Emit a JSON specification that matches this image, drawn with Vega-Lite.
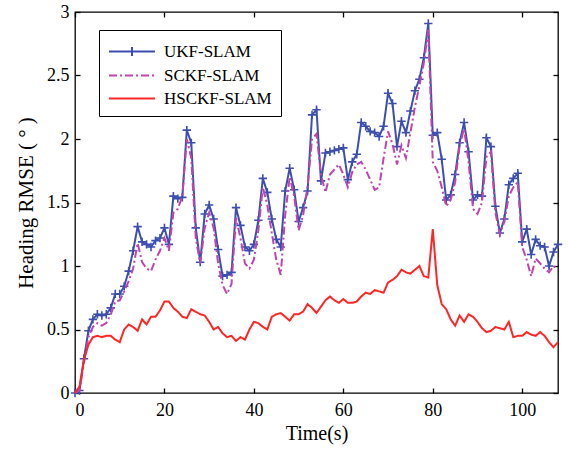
{
  "$schema": "https://vega.github.io/schema/vega-lite/v6.json",
  "autosize": "none",
  "width": 483,
  "height": 381,
  "padding": {"left": 75, "top": 12, "right": 10, "bottom": 56},
  "background": "white",
  "datasets": {
    "u": [
      {"t":0,"v":0},{"t":1,"v":0.02},{"t":2,"v":0.27},{"t":3,"v":0.49},{"t":4,"v":0.58},{"t":5,"v":0.62},{"t":6,"v":0.61},{"t":7,"v":0.62},{"t":8,"v":0.67},{"t":9,"v":0.78},
      {"t":10,"v":0.78},{"t":11,"v":0.84},{"t":12,"v":0.96},{"t":13,"v":1.12},{"t":14,"v":1.31},{"t":15,"v":1.19},{"t":16,"v":1.17},{"t":17,"v":1.15},{"t":18,"v":1.2},{"t":19,"v":1.22},
      {"t":20,"v":1.3},{"t":21,"v":1.17},{"t":22,"v":1.55},{"t":23,"v":1.53},{"t":24,"v":1.54},{"t":25,"v":2.07},{"t":26,"v":1.97},{"t":27,"v":1.3},{"t":28,"v":1.03},{"t":29,"v":1.41},
      {"t":30,"v":1.48},{"t":31,"v":1.37},{"t":32,"v":1.13},{"t":33,"v":0.92},{"t":34,"v":0.93},{"t":35,"v":0.95},{"t":36,"v":1.46},{"t":37,"v":1.32},{"t":38,"v":1.15},{"t":39,"v":1.12},
      {"t":40,"v":1.17},{"t":41,"v":1.36},{"t":42,"v":1.69},{"t":43,"v":1.58},{"t":44,"v":1.37},{"t":45,"v":1.21},{"t":46,"v":1.15},{"t":47,"v":1.59},{"t":48,"v":1.77},{"t":49,"v":1.6},
      {"t":50,"v":1.35},{"t":51,"v":1.46},{"t":52,"v":1.59},{"t":53,"v":2.19},{"t":54,"v":2.23},{"t":55,"v":1.67},{"t":56,"v":1.89},{"t":57,"v":1.9},{"t":58,"v":1.91},{"t":59,"v":1.92},
      {"t":60,"v":1.93},{"t":61,"v":1.68},{"t":62,"v":1.82},{"t":63,"v":1.88},{"t":64,"v":2.13},{"t":65,"v":2.1},{"t":66,"v":2.06},{"t":67,"v":2.05},{"t":68,"v":2.02},{"t":69,"v":2.1},
      {"t":70,"v":2.36},{"t":71,"v":2.28},{"t":72,"v":1.94},{"t":73,"v":2.14},{"t":74,"v":2.05},{"t":75,"v":2.22},{"t":76,"v":2.38},{"t":77,"v":2.47},{"t":78,"v":2.64},{"t":79,"v":2.91},
      {"t":80,"v":2.03},{"t":81,"v":2.05},{"t":82,"v":1.84},{"t":83,"v":1.52},{"t":84,"v":1.56},{"t":85,"v":1.72},{"t":86,"v":1.97},{"t":87,"v":2.13},{"t":88,"v":1.9},{"t":89,"v":1.52},
      {"t":90,"v":1.56},{"t":91,"v":1.55},{"t":92,"v":2.01},{"t":93,"v":1.94},{"t":94,"v":1.47},{"t":95,"v":1.26},{"t":96,"v":1.37},{"t":97,"v":1.64},{"t":98,"v":1.69},{"t":99,"v":1.73},
      {"t":100,"v":1.19},{"t":101,"v":1.29},{"t":102,"v":1.09},{"t":103,"v":1.21},{"t":104,"v":1.16},{"t":105,"v":1.15},{"t":106,"v":1.0},{"t":107,"v":1.11},{"t":108,"v":1.17}
    ],
    "c": [
      {"t":0,"v":0},{"t":1,"v":0.02},{"t":2,"v":0.24},{"t":3,"v":0.44},{"t":4,"v":0.52},{"t":5,"v":0.55},{"t":6,"v":0.53},{"t":7,"v":0.55},{"t":8,"v":0.62},{"t":9,"v":0.72},
      {"t":10,"v":0.73},{"t":11,"v":0.8},{"t":12,"v":0.88},{"t":13,"v":0.98},{"t":14,"v":1.18},{"t":15,"v":1.03},{"t":16,"v":0.98},{"t":17,"v":0.96},{"t":18,"v":1.05},{"t":19,"v":1.12},
      {"t":20,"v":1.22},{"t":21,"v":1.12},{"t":22,"v":1.42},{"t":23,"v":1.45},{"t":24,"v":1.55},{"t":25,"v":2.0},{"t":26,"v":1.85},{"t":27,"v":1.22},{"t":28,"v":1.02},{"t":29,"v":1.3},
      {"t":30,"v":1.42},{"t":31,"v":1.3},{"t":32,"v":1.02},{"t":33,"v":0.85},{"t":34,"v":0.78},{"t":35,"v":0.86},{"t":36,"v":1.38},{"t":37,"v":1.22},{"t":38,"v":1.02},{"t":39,"v":0.98},
      {"t":40,"v":1.05},{"t":41,"v":1.28},{"t":42,"v":1.62},{"t":43,"v":1.48},{"t":44,"v":1.26},{"t":45,"v":1.05},{"t":46,"v":0.93},{"t":47,"v":1.4},{"t":48,"v":1.7},{"t":49,"v":1.55},
      {"t":50,"v":1.28},{"t":51,"v":1.4},{"t":52,"v":1.62},{"t":53,"v":2.0},{"t":54,"v":2.04},{"t":55,"v":1.72},{"t":56,"v":1.58},{"t":57,"v":1.72},{"t":58,"v":1.76},{"t":59,"v":1.8},
      {"t":60,"v":1.72},{"t":61,"v":1.62},{"t":62,"v":1.74},{"t":63,"v":1.8},{"t":64,"v":1.82},{"t":65,"v":1.76},{"t":66,"v":1.68},{"t":67,"v":1.6},{"t":68,"v":1.62},{"t":69,"v":1.85},
      {"t":70,"v":2.06},{"t":71,"v":1.96},{"t":72,"v":1.8},{"t":73,"v":1.95},{"t":74,"v":1.85},{"t":75,"v":2.05},{"t":76,"v":2.25},{"t":77,"v":2.42},{"t":78,"v":2.6},{"t":79,"v":2.86},
      {"t":80,"v":1.82},{"t":81,"v":1.75},{"t":82,"v":1.62},{"t":83,"v":1.47},{"t":84,"v":1.52},{"t":85,"v":1.66},{"t":86,"v":1.95},{"t":87,"v":2.08},{"t":88,"v":1.82},{"t":89,"v":1.45},
      {"t":90,"v":1.41},{"t":91,"v":1.5},{"t":92,"v":1.86},{"t":93,"v":1.9},{"t":94,"v":1.42},{"t":95,"v":1.25},{"t":96,"v":1.35},{"t":97,"v":1.55},{"t":98,"v":1.62},{"t":99,"v":1.66},
      {"t":100,"v":1.15},{"t":101,"v":1.05},{"t":102,"v":0.92},{"t":103,"v":1.06},{"t":104,"v":1.02},{"t":105,"v":0.98},{"t":106,"v":0.95},{"t":107,"v":1.0},{"t":108,"v":0.97}
    ],
    "h": [
      {"t":0,"v":0},{"t":1,"v":0.05},{"t":2,"v":0.26},{"t":3,"v":0.38},{"t":4,"v":0.44},{"t":5,"v":0.45},{"t":6,"v":0.44},{"t":7,"v":0.45},{"t":8,"v":0.45},{"t":9,"v":0.42},
      {"t":10,"v":0.4},{"t":11,"v":0.5},{"t":12,"v":0.54},{"t":13,"v":0.52},{"t":14,"v":0.49},{"t":15,"v":0.58},{"t":16,"v":0.54},{"t":17,"v":0.6},{"t":18,"v":0.6},{"t":19,"v":0.65},
      {"t":20,"v":0.72},{"t":21,"v":0.72},{"t":22,"v":0.67},{"t":23,"v":0.64},{"t":24,"v":0.6},{"t":25,"v":0.59},{"t":26,"v":0.66},{"t":27,"v":0.64},{"t":28,"v":0.62},{"t":29,"v":0.61},
      {"t":30,"v":0.56},{"t":31,"v":0.5},{"t":32,"v":0.52},{"t":33,"v":0.47},{"t":34,"v":0.44},{"t":35,"v":0.45},{"t":36,"v":0.41},{"t":37,"v":0.44},{"t":38,"v":0.42},{"t":39,"v":0.5},
      {"t":40,"v":0.56},{"t":41,"v":0.55},{"t":42,"v":0.52},{"t":43,"v":0.5},{"t":44,"v":0.6},{"t":45,"v":0.62},{"t":46,"v":0.63},{"t":47,"v":0.6},{"t":48,"v":0.57},{"t":49,"v":0.62},
      {"t":50,"v":0.62},{"t":51,"v":0.64},{"t":52,"v":0.7},{"t":53,"v":0.67},{"t":54,"v":0.63},{"t":55,"v":0.68},{"t":56,"v":0.73},{"t":57,"v":0.76},{"t":58,"v":0.73},{"t":59,"v":0.71},
      {"t":60,"v":0.74},{"t":61,"v":0.71},{"t":62,"v":0.71},{"t":63,"v":0.72},{"t":64,"v":0.76},{"t":65,"v":0.79},{"t":66,"v":0.78},{"t":67,"v":0.81},{"t":68,"v":0.8},{"t":69,"v":0.79},
      {"t":70,"v":0.87},{"t":71,"v":0.89},{"t":72,"v":0.92},{"t":73,"v":0.97},{"t":74,"v":0.95},{"t":75,"v":0.94},{"t":76,"v":0.97},{"t":77,"v":1.0},{"t":78,"v":0.92},{"t":79,"v":0.91},
      {"t":80,"v":1.29},{"t":81,"v":0.85},{"t":82,"v":0.7},{"t":83,"v":0.66},{"t":84,"v":0.58},{"t":85,"v":0.53},{"t":86,"v":0.61},{"t":87,"v":0.56},{"t":88,"v":0.62},{"t":89,"v":0.6},
      {"t":90,"v":0.56},{"t":91,"v":0.51},{"t":92,"v":0.48},{"t":93,"v":0.49},{"t":94,"v":0.52},{"t":95,"v":0.51},{"t":96,"v":0.5},{"t":97,"v":0.56},{"t":98,"v":0.44},{"t":99,"v":0.45},
      {"t":100,"v":0.45},{"t":101,"v":0.48},{"t":102,"v":0.46},{"t":103,"v":0.45},{"t":104,"v":0.48},{"t":105,"v":0.45},{"t":106,"v":0.4},{"t":107,"v":0.36},{"t":108,"v":0.4}
    ]
  },
  "layer": [
    {
      "data": {"name": "u"},
      "mark": {"type": "line", "strokeWidth": 2},
      "encoding": {
        "x": {"field": "t", "type": "quantitative", "scale": {"domain": [0, 108], "nice": false}, "axis": {"orient": "top", "labels": false, "title": null, "values": [0, 20, 40, 60, 80, 100]}},
        "y": {"field": "v", "type": "quantitative", "scale": {"domain": [0, 3], "nice": false}, "axis": {"orient": "right", "labels": false, "title": null, "values": [0, 0.5, 1, 1.5, 2, 2.5, 3]}},
        "color": {"datum": "UKF-SLAM", "title": null},
        "strokeDash": {"datum": "UKF-SLAM", "title": null}
      }
    },
    {
      "data": {"name": "u"},
      "mark": {"type": "point", "shape": "M-1,0H1M0,-1V1", "size": 70, "filled": false, "strokeWidth": 1.6, "color": "#3c4fb0", "opacity": 1},
      "encoding": {
        "x": {"field": "t", "type": "quantitative", "axis": null},
        "y": {"field": "v", "type": "quantitative", "axis": null}
      }
    },
    {
      "data": {"name": "c"},
      "mark": {"type": "line", "strokeWidth": 2},
      "encoding": {
        "x": {"field": "t", "type": "quantitative", "axis": null},
        "y": {"field": "v", "type": "quantitative", "axis": null},
        "color": {"datum": "SCKF-SLAM", "title": null},
        "strokeDash": {"datum": "SCKF-SLAM", "title": null}
      }
    },
    {
      "data": {"name": "h"},
      "mark": {"type": "line", "strokeWidth": 2},
      "encoding": {
        "x": {"field": "t", "type": "quantitative", "title": "Time(s)", "axis": {"orient": "bottom", "values": [0, 20, 40, 60, 80, 100], "labelPadding": 13, "titlePadding": 4}},
        "y": {"field": "v", "type": "quantitative", "title": "Heading RMSE ( ° )", "axis": {"orient": "left", "values": [0, 0.5, 1, 1.5, 2, 2.5, 3], "format": "~g", "labelPadding": 11, "titlePadding": 10, "titleFontSize": 21}},
        "color": {
          "datum": "HSCKF-SLAM",
          "title": null,
          "scale": {"domain": ["UKF-SLAM", "SCKF-SLAM", "HSCKF-SLAM"], "range": ["#3c4fb0", "#c044b0", "#ff2626"]},
          "legend": {
            "orient": "none", "legendX": 24, "legendY": 18, "direction": "vertical",
            "strokeColor": "black", "fillColor": "white", "padding": 9, "cornerRadius": 0,
            "symbolSize": 529, "symbolStrokeWidth": 2,
            "labelFont": "Liberation Serif", "labelFontSize": 17, "labelColor": "black", "labelOffset": 31, "rowPadding": 2
          }
        },
        "strokeDash": {
          "datum": "HSCKF-SLAM",
          "title": null,
          "scale": {"domain": ["UKF-SLAM", "SCKF-SLAM", "HSCKF-SLAM"], "range": [[1, 0], [8, 3, 2, 3], [1, 0]]}
        }
      }
    },
    {
      "data": {"values": []},
      "mark": {"type": "point", "filled": false},
      "encoding": {
        "shape": {
          "datum": "UKF-SLAM",
          "title": null,
          "scale": {"domain": ["UKF-SLAM", "SCKF-SLAM", "HSCKF-SLAM"], "range": ["M-1,0H3M1,-0.4V0.4", "M-1,0H3", "M-1,0H3"]}
        }
      }
    }
  ],
  "resolve": {"axis": {"x": "independent", "y": "independent"}},
  "config": {
    "view": {"stroke": "black", "strokeWidth": 1.3},
    "axis": {
      "domain": false, "grid": false, "tickColor": "black", "tickSize": -5, "tickWidth": 1.3,
      "labelFont": "Liberation Serif", "labelFontSize": 18, "labelColor": "black",
      "titleFont": "Liberation Serif", "titleFontSize": 20, "titleFontWeight": "normal", "titleColor": "black"
    }
  }
}
